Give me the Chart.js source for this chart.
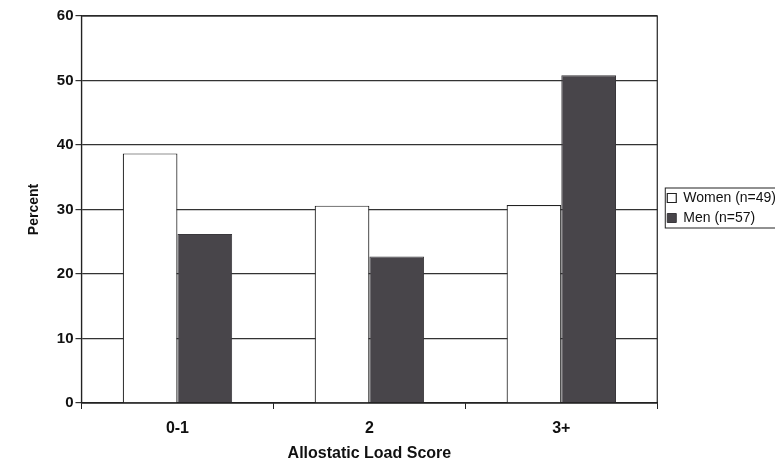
<!DOCTYPE html>
<html>
<head>
<meta charset="utf-8">
<script src="https://cdn.jsdelivr.net/npm/chart.js@4"></script>
<style>
  body { margin: 0; background: #fff; }
  #wrap { width: 775px; height: 466px; }
</style>
</head>
<body>
<div id="wrap"><canvas id="loadChart"></canvas></div>
<script>
// Allostatic load score groups and percent of each sex in them
const scoreGroups = ['0-1', '2', '3+'];
const womenPct = [38.7, 30.6, 30.7];
const menPct = [26.2, 22.7, 50.8];
const yTicks = [0, 10, 20, 30, 40, 50, 60];

const INK = '#222';
const FONT = 'Liberation Sans';

// frame around the plot area, legend moved up and boxed
const framePlugin = {
    id: 'frame',
    afterLayout(chart) {
        const lg = chart.legend;
        if (lg) {
            lg.top = 158;
            lg.bottom = 258;
            lg.left += 4;
            lg.right += 4;
        }
    },
    afterDraw(chart) {
        const { ctx, chartArea: a, legend } = chart;
        ctx.save();
        ctx.strokeStyle = INK;
        ctx.lineWidth = 1.2;
        ctx.strokeRect(a.left, a.top, a.right - a.left, a.bottom - a.top);
        if (legend && legend.legendHitBoxes.length) {
            const boxes = legend.legendHitBoxes;
            const x0 = boxes[0].left - 2;
            const y0 = boxes[0].top - 3;
            const x1 = Math.max(...boxes.map(b => b.left + b.width)) + 4;
            const y1 = boxes[boxes.length - 1].top + boxes[boxes.length - 1].height + 3;
            ctx.lineWidth = 1;
            ctx.strokeRect(x0, y0, x1 - x0, y1 - y0);
        }
        ctx.restore();
    }
};

new Chart(document.getElementById('loadChart'), {
    type: 'bar',
    data: {
        labels: scoreGroups,
        datasets: [{
            label: 'Women (n=49)',
            data: womenPct,
            backgroundColor: '#ffffff',
            borderColor: INK,
            borderWidth: 1.2
        }, {
            label: 'Men (n=57)',
            data: menPct,
            backgroundColor: '#48454a',
            borderColor: '#3a383c',
            borderWidth: 1
        }]
    },
    options: {
        responsive: true,
        maintainAspectRatio: false,
        animation: false,
        layout: { padding: { top: 16, right: -7, left: 24, bottom: 0 } },
        datasets: {
            bar: { categoryPercentage: 0.57, barPercentage: 1 }
        },
        plugins: {
            tooltip: { enabled: false },
            legend: {
                position: 'right',
                align: 'center',
                labels: {
                    boxWidth: 9,
                    boxHeight: 9,
                    padding: 6,
                    color: '#111',
                    font: { family: FONT, size: 14 }
                }
            }
        },
        scales: {
            x: {
                afterFit(axis) {
                    axis.height = 63;
                },
                grid: { drawOnChartArea: false, drawTicks: true, tickLength: 6, color: INK },
                border: { color: INK, width: 1.2 },
                ticks: {
                    color: '#111',
                    padding: 10,
                    font: { family: FONT, size: 16, weight: 'bold' }
                },
                title: {
                    display: true,
                    text: 'Allostatic Load Score',
                    color: '#111',
                    padding: { top: 4, bottom: 3 },
                    font: { family: FONT, size: 16, weight: 'bold' }
                }
            },
            y: {
                min: 0,
                max: 60,
                afterBuildTicks(axis) {
                    axis.ticks = yTicks.map(v => ({ value: v }));
                },
                grid: { color: '#333', lineWidth: 1.2, tickLength: 6 },
                border: { color: INK, width: 1.2 },
                ticks: {
                    color: '#111',
                    padding: 2,
                    font: { family: FONT, size: 15, weight: 'bold' }
                },
                title: {
                    display: true,
                    text: 'Percent',
                    color: '#111',
                    padding: { top: 2, bottom: 12 },
                    font: { family: FONT, size: 14, weight: 'bold' }
                }
            }
        }
    },
    plugins: [framePlugin]
});
</script>
</body>
</html>
